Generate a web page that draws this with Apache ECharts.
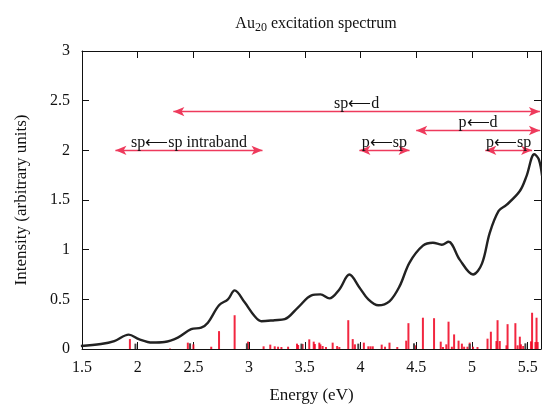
<!DOCTYPE html>
<html>
<head>
<meta charset="utf-8">
<script src="https://cdn.jsdelivr.net/npm/echarts@6/dist/echarts.min.js"></script>
<style>
  html, body { margin: 0; padding: 0; background: #fff; }
  #main { width: 542px; height: 409px; }
</style>
</head>
<body>
<div id="main"></div>
<script>
// broadened spectrum (energy eV, intensity)
var curveEnergy = [1.49, 1.67, 1.79, 1.92, 2.01, 2.13, 2.24, 2.36, 2.48, 2.57, 2.63, 2.73, 2.81, 2.87, 2.96, 3.05, 3.11,
  3.23, 3.32, 3.44, 3.56, 3.64, 3.72, 3.81, 3.90, 3.99, 4.07, 4.16, 4.26, 4.35, 4.44, 4.56, 4.65, 4.73, 4.79,
  4.89, 5.01, 5.09, 5.16, 5.24, 5.31, 5.43, 5.49, 5.56, 5.60, 5.63];
var curveIntensity = [0.03, 0.05, 0.08, 0.145, 0.10, 0.065, 0.07, 0.115, 0.20, 0.215, 0.265, 0.44, 0.50, 0.59, 0.47, 0.33, 0.28,
  0.29, 0.30, 0.42, 0.54, 0.55, 0.51, 0.60, 0.75, 0.62, 0.50, 0.44, 0.48, 0.63, 0.87, 1.04, 1.07, 1.05, 1.08,
  0.90, 0.75, 0.86, 1.17, 1.39, 1.45, 1.59, 1.74, 1.96, 1.91, 1.74];

// oscillator strengths (sticks)
var redSticks = [[1.93, 0.10], [2.29, 0.005], [2.45, 0.064], [2.50, 0.047], [2.66, 0.023], [2.73, 0.18],
  [2.87, 0.34], [2.99, 0.074], [3.13, 0.027], [3.19, 0.044], [3.23, 0.027], [3.26, 0.023], [3.29, 0.02],
  [3.35, 0.023], [3.43, 0.054], [3.44, 0.04], [3.48, 0.05], [3.54, 0.097], [3.58, 0.074], [3.59, 0.05],
  [3.63, 0.064], [3.64, 0.047], [3.66, 0.03], [3.69, 0.02], [3.75, 0.064], [3.79, 0.03], [3.81, 0.02],
  [3.89, 0.29], [3.93, 0.10], [3.95, 0.047], [4.03, 0.064], [4.07, 0.027], [4.09, 0.027], [4.11, 0.027],
  [4.19, 0.044], [4.22, 0.023], [4.26, 0.064], [4.33, 0.02], [4.41, 0.084], [4.43, 0.26], [4.49, 0.037],
  [4.56, 0.315], [4.66, 0.31], [4.72, 0.074], [4.74, 0.02], [4.77, 0.047], [4.79, 0.275], [4.82, 0.023],
  [4.84, 0.147], [4.88, 0.084], [4.91, 0.054], [4.93, 0.023], [4.96, 0.023], [4.98, 0.064], [5.01, 0.023],
  [5.05, 0.02], [5.14, 0.104], [5.17, 0.174], [5.22, 0.08], [5.23, 0.29], [5.25, 0.08], [5.31, 0.037],
  [5.32, 0.25], [5.39, 0.26], [5.41, 0.037], [5.43, 0.124], [5.44, 0.047], [5.46, 0.03], [5.53, 0.077],
  [5.54, 0.365], [5.57, 0.07], [5.58, 0.315], [5.59, 0.07]];
var greySticks = [[1.98, 0.054], [2.47, 0.057], [2.98, 0.057], [3.47, 0.054], [3.98, 0.054], [4.48, 0.057],
  [4.98, 0.05], [5.48, 0.057]];

// transition arrows: label, from, to, height
var arrowLabels = ['sp⟵d', 'p⟵d', 'sp⟵sp intraband', 'p⟵sp', 'p⟵sp'];
var arrowFrom = [2.32, 4.50, 1.80, 3.99, 5.12];
var arrowTo = [5.61, 5.61, 3.12, 4.44, 5.54];
var arrowY = [2.39, 2.2, 2.0, 2.0, 2.0];

var xTicks = { min: 1.5, max: 5.62, interval: 0.5 };
var yTicks = { min: 0, max: 3, interval: 0.5 };

var serif = 'Liberation Serif';
var myChart = echarts.init(document.getElementById('main'));

var curve = curveEnergy.map(function (e, i) { return [e, curveIntensity[i]]; });
var arrows = arrowLabels.map(function (t, i) {
  return [{ name: t, coord: [arrowFrom[i], arrowY[i]] }, { coord: [arrowTo[i], arrowY[i]] }];
});

// gnuplot-like box: lines on all four sides, ticks pointing in
var frameAxis = {
  type: 'value',
  axisLine: { show: true, onZero: false, lineStyle: { color: '#111', width: 1 } },
  axisTick: { show: true, inside: true, length: 7, lineStyle: { color: '#111' } },
  splitLine: { show: false }
};

var option = {
  animation: false,
  backgroundColor: '#fff',
  title: {
    text: '{a|Au}{s|20}{a| excitation spectrum}',
    left: 311,
    top: 8,
    textAlign: 'center',
    textStyle: {
      fontWeight: 'normal',
      rich: {
        a: { fontFamily: serif, fontSize: 16, fontWeight: 'normal', color: '#111' },
        s: { fontFamily: serif, fontSize: 12, fontWeight: 'normal', color: '#111', padding: [9, 0, 0, 0] }
      }
    }
  },
  grid: { left: 82, right: 1, top: 51, bottom: 59 },
  xAxis: [
    Object.assign({}, frameAxis, {
      min: xTicks.min, max: xTicks.max, interval: xTicks.interval, position: 'bottom',
      name: 'Energy (eV)', nameLocation: 'middle', nameGap: 38,
      nameTextStyle: { fontFamily: serif, fontSize: 17, color: '#111' },
      axisLabel: { showMaxLabel: false, margin: 11, fontFamily: serif, fontSize: 16, color: '#111' }
    }),
    Object.assign({}, frameAxis, {
      min: xTicks.min, max: xTicks.max, interval: xTicks.interval, position: 'top',
      axisLabel: { show: false }
    })
  ],
  yAxis: [
    Object.assign({}, frameAxis, {
      min: yTicks.min, max: yTicks.max, interval: yTicks.interval, position: 'left',
      name: 'Intensity (arbitrary units)', nameLocation: 'middle', nameGap: 52,
      nameTextStyle: { fontFamily: serif, fontSize: 17, color: '#111' },
      axisLabel: { margin: 12, fontFamily: serif, fontSize: 16, color: '#111' }
    }),
    Object.assign({}, frameAxis, {
      min: yTicks.min, max: yTicks.max, interval: yTicks.interval, position: 'right',
      axisLabel: { show: false }
    })
  ],
  series: [
    {
      type: 'bar', data: redSticks, barWidth: 2, barGap: '-100%',
      itemStyle: { color: 'rgba(240,0,30,0.85)' }, silent: true
    },
    {
      type: 'bar', data: greySticks, barWidth: 2, barGap: '-100%',
      itemStyle: { color: '#444' }, silent: true
    },
    {
      type: 'line', data: curve, smooth: 0.35, showSymbol: false,
      lineStyle: { color: '#222', width: 2.4 }, silent: true,
      markLine: {
        silent: true,
        symbol: ['arrow', 'arrow'],
        symbolSize: [7, 11],
        lineStyle: { color: '#ee3a5c', width: 1.3, type: 'solid' },
        label: {
          show: true, position: 'middle', distance: 0, formatter: '{b}',
          fontFamily: serif, fontSize: 16, color: '#111'
        },
        data: arrows
      }
    }
  ]
};
myChart.setOption(option);
</script>
</body>
</html>
